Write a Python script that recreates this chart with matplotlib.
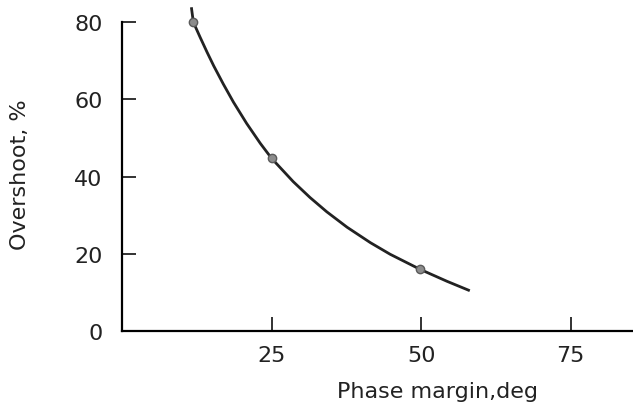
import numpy as np
import matplotlib.pyplot as plt

# --- Data ---
phase_margin = [11.6, 11.9, 13.0, 14.2, 15.3, 16.9, 18.6, 20.8, 23.1, 25.0,
                28.6, 31.4, 34.2, 37.6, 41.5, 44.8, 49.8, 54.3, 57.9]
overshoot = [83.5, 80.0, 76.2, 72.2, 68.7, 64.0, 59.3, 53.8, 48.6, 44.7,
             38.7, 34.6, 30.9, 26.9, 22.9, 19.9, 16.0, 12.9, 10.6]

# marked points on the curve
mark_x = [11.9, 25.0, 49.8]
mark_y = [80.0, 44.7, 16.0]

x_ticks = [25, 50, 75]
y_ticks = [0, 20, 40, 60, 80]

plt.rcParams.update({
    "font.family": "DejaVu Sans",
    "font.size": 16,
})

fig = plt.figure(figsize=(6.33, 4.06), dpi=100)
ax = fig.add_axes([0.193, 0.182, 0.807, 0.818])

ax.plot(phase_margin, overshoot, color="#222222", linewidth=2.0,
        solid_joinstyle="round", clip_on=False)
ax.plot(mark_x, mark_y, linestyle="none", marker="o", markersize=6,
        markerfacecolor="#8c8c8c", markeredgecolor="#5a5a5a", clip_on=False)

ax.set_xlim(0, 85.4)
ax.set_ylim(0, 86)
ax.spines["top"].set_visible(False)
ax.spines["right"].set_visible(False)
ax.spines["left"].set_bounds(0, 80)
ax.spines["left"].set_linewidth(1.6)
ax.spines["bottom"].set_linewidth(1.6)

ax.set_xticks(x_ticks)
ax.set_yticks(y_ticks)
ax.tick_params(axis="x", direction="in", length=10, width=1.3, pad=10, colors="#222222")
ax.tick_params(axis="y", direction="in", length=10, width=1.3, pad=14, colors="#222222")
# no tick mark at origin
ax.yaxis.get_major_ticks()[0].tick1line.set_visible(False)

ax.set_xlabel("Phase margin,deg", fontsize=16, color="#222222", va="center")
ax.xaxis.set_label_coords(0.618, -0.18)
ax.set_ylabel("Overshoot, %", fontsize=16, color="#222222", va="center")
ax.yaxis.set_label_coords(-0.2, 0.473)

fig.savefig("out.png", dpi=100)
